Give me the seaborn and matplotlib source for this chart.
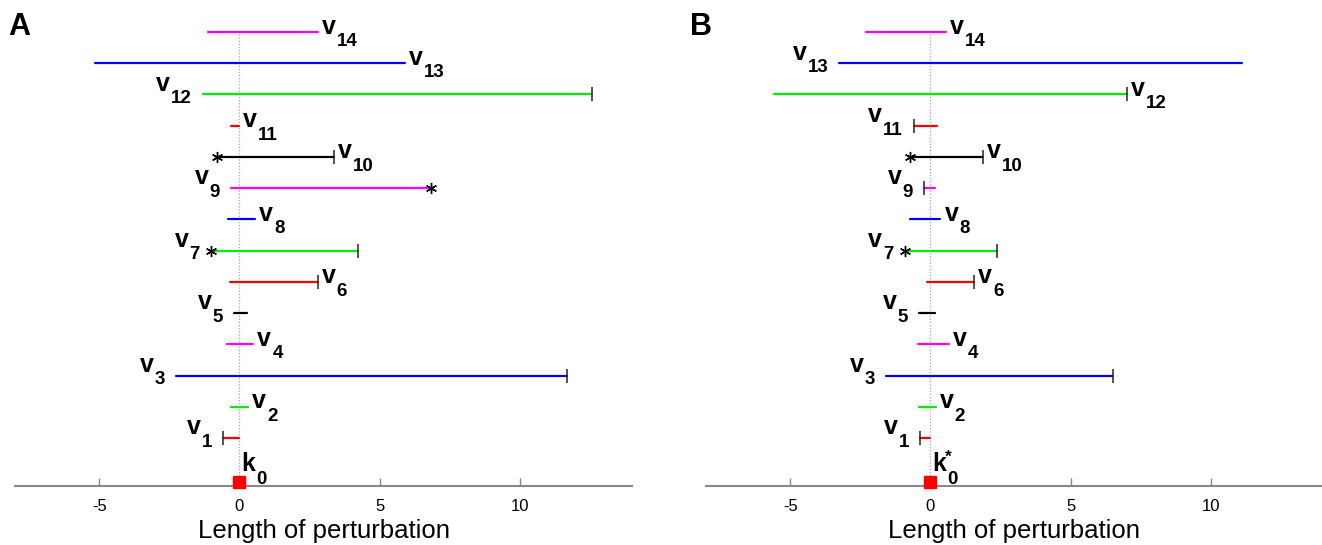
import numpy as np
import pandas as pd
import matplotlib
matplotlib.use("Agg")
import matplotlib.pyplot as plt
import seaborn as sns

# ---------------- data ----------------
var_nums = [str(i) for i in range(1, 15)]
var_rows = list(range(1, 15))
var_colors = ["#ff0000", "#00ee00", "#0000ff", "#ff00ff", "#000000"] * 3

# panel A
A_lo = [-0.59, -0.29, -2.25, -0.44, -0.18, -0.33, -1.01, -0.41, -0.29, -0.78, -0.29, -1.31, -5.15, -1.13]
A_hi = [0.0, 0.32, 11.68, 0.50, 0.27, 2.79, 4.24, 0.57, 6.83, 3.36, 0.0, 12.58, 5.92, 2.79]
A_lo_mark = ["|", "", "", "", "", "", "*", "", "", "*", "", "", "", ""]
A_hi_mark = ["", "", "|", "", "", "|", "|", "", "*", "|", "", "|", "", ""]
A_side = ["L", "R", "L", "R", "L", "R", "L", "R", "L", "R", "R", "L", "R", "R"]

# panel B
B_lo = [-0.36, -0.41, -1.58, -0.44, -0.41, -0.11, -0.92, -0.74, -0.23, -0.71, -0.59, -5.56, -3.24, -2.30]
B_hi = [0.0, 0.20, 6.50, 0.65, 0.17, 1.56, 2.38, 0.36, 0.17, 1.88, 0.24, 7.00, 11.12, 0.56]
B_lo_mark = ["|", "", "", "", "", "", "*", "", "|", "*", "|", "", "", ""]
B_hi_mark = ["", "", "|", "", "", "|", "|", "", "", "|", "", "|", "", ""]
B_side = ["L", "R", "L", "R", "L", "R", "L", "R", "L", "R", "L", "R", "L", "R"]

x_ticks = [-5, 0, 5, 10]
x_range = (-8, 14)
x_title = "Length of perturbation"
panel_titles = ["A", "B"]
k0_y = -0.42

# ---------------- style ----------------
sns.set_theme(style="white")
plt.rcParams["font.family"] = ["Liberation Sans", "DejaVu Sans"]
plt.rcParams["text.color"] = "black"
plt.rcParams["axes.labelcolor"] = "black"
plt.rcParams["xtick.color"] = "black"

W, H = 1322, 545
fig = plt.figure(figsize=(W / 100, H / 100), dpi=100)
axA = fig.add_axes([15 / W, (H - 485.5) / H, 617 / W, 484.7 / H])
axB = fig.add_axes([706 / W, (H - 485.5) / H, 617 / W, 484.7 / H])

FS = 18
FS2 = 13.5
DROP = 11.5
GAP = 11


def vlabel(ax, x, y, num, side, letter="v"):
    if side == "R":
        t1 = ax.annotate(letter, (x, y), xytext=(4, -1.5), textcoords="offset pixels",
                         ha="left", va="baseline", fontsize=FS, fontweight="bold",
                         color="black")
        ax.annotate(num, xy=(1, 0), xycoords=t1, xytext=(1, -DROP),
                    textcoords="offset pixels", ha="left", va="bottom",
                    fontsize=FS2, fontweight="bold", color="black")
    else:
        t2 = ax.annotate(num, (x, y), xytext=(-GAP, 4 - DROP - 1.3),
                         textcoords="offset pixels", ha="right", va="baseline",
                         fontsize=FS2, fontweight="bold", color="black")
        ax.annotate(letter, xy=(0, 0), xycoords=t2, xytext=(-1, DROP),
                    textcoords="offset pixels", ha="right", va="bottom",
                    fontsize=FS, fontweight="bold", color="black")


def draw(ax, lo, hi, lo_mark, hi_mark, side, star):
    names = ["v" + n for n in var_nums]
    df = pd.DataFrame({
        "var": np.repeat(names, 2),
        "x": np.ravel(np.column_stack([lo, hi])),
        "y": np.repeat(var_rows, 2),
    })
    sns.lineplot(data=df, x="x", y="y", hue="var", units="var", estimator=None,
                 sort=False, palette=dict(zip(names, var_colors)), legend=False,
                 ax=ax, linewidth=1.6)
    # zero reference line
    ax.plot([0, 0], [k0_y, var_rows[-1]], color="#9a9aff", lw=0.9,
            ls=(0, (1, 1.5)), zorder=1)
    for i in range(len(var_rows)):
        for xv, mk in ((lo[i], lo_mark[i]), (hi[i], hi_mark[i])):
            if mk == "|":
                ax.plot([xv], [var_rows[i]], marker="|", color="#222222", ms=10, mew=1.1)
            elif mk == "*":
                ax.plot([xv], [var_rows[i]], marker=(6, 2, 0), color="black", ms=8, mew=1.0)
        xv = hi[i] if side[i] == "R" else lo[i]
        vlabel(ax, xv, var_rows[i], var_nums[i], side[i])
    # k0
    ax.plot([0], [k0_y], marker="s", color="#ff0000", ms=8, clip_on=False, zorder=5)
    tk = ax.annotate("k", (0, k0_y), xytext=(2, 11), textcoords="offset pixels",
                     ha="left", va="baseline", fontsize=FS, fontweight="bold",
                     color="black")
    ax.annotate("0", xy=(1, 0), xycoords=tk, xytext=(1, -DROP),
                textcoords="offset pixels", ha="left", va="bottom",
                fontsize=FS2, fontweight="bold", color="black")
    if star:
        ax.annotate("*", (0, k0_y), xytext=(15, 21), textcoords="offset pixels",
                    ha="left", va="baseline", fontsize=12.5, fontweight="bold",
                    color="black")

    ax.set_xlim(*x_range)
    ax.set_ylim(-0.52, 15)
    for s in ("left", "right", "top"):
        ax.spines[s].set_visible(False)
    ax.spines["bottom"].set_color("#888888")
    ax.spines["bottom"].set_linewidth(1.5)
    ax.set_yticks([])
    ax.set_xticks(x_ticks)
    ax.set_xticklabels([str(t) for t in x_ticks])
    ax.tick_params(axis="x", direction="in", length=6, width=1, color="#888888",
                   pad=10, labelsize=12, labelcolor="black", bottom=True)
    ax.set_ylabel("")
    ax.set_xlabel(x_title, fontsize=18.5, labelpad=3, color="black")
    ax.patch.set_alpha(0)


draw(axA, A_lo, A_hi, A_lo_mark, A_hi_mark, A_side, False)
draw(axB, B_lo, B_hi, B_lo_mark, B_hi_mark, B_side, True)

fig.text(8 / W, 1 - 35 / H, panel_titles[0], fontsize=22, fontweight="bold",
         va="baseline", color="black")
fig.text(690 / W, 1 - 35 / H, panel_titles[1], fontsize=22, fontweight="bold",
         va="baseline", color="black")

fig.savefig("out.png", dpi=100)
